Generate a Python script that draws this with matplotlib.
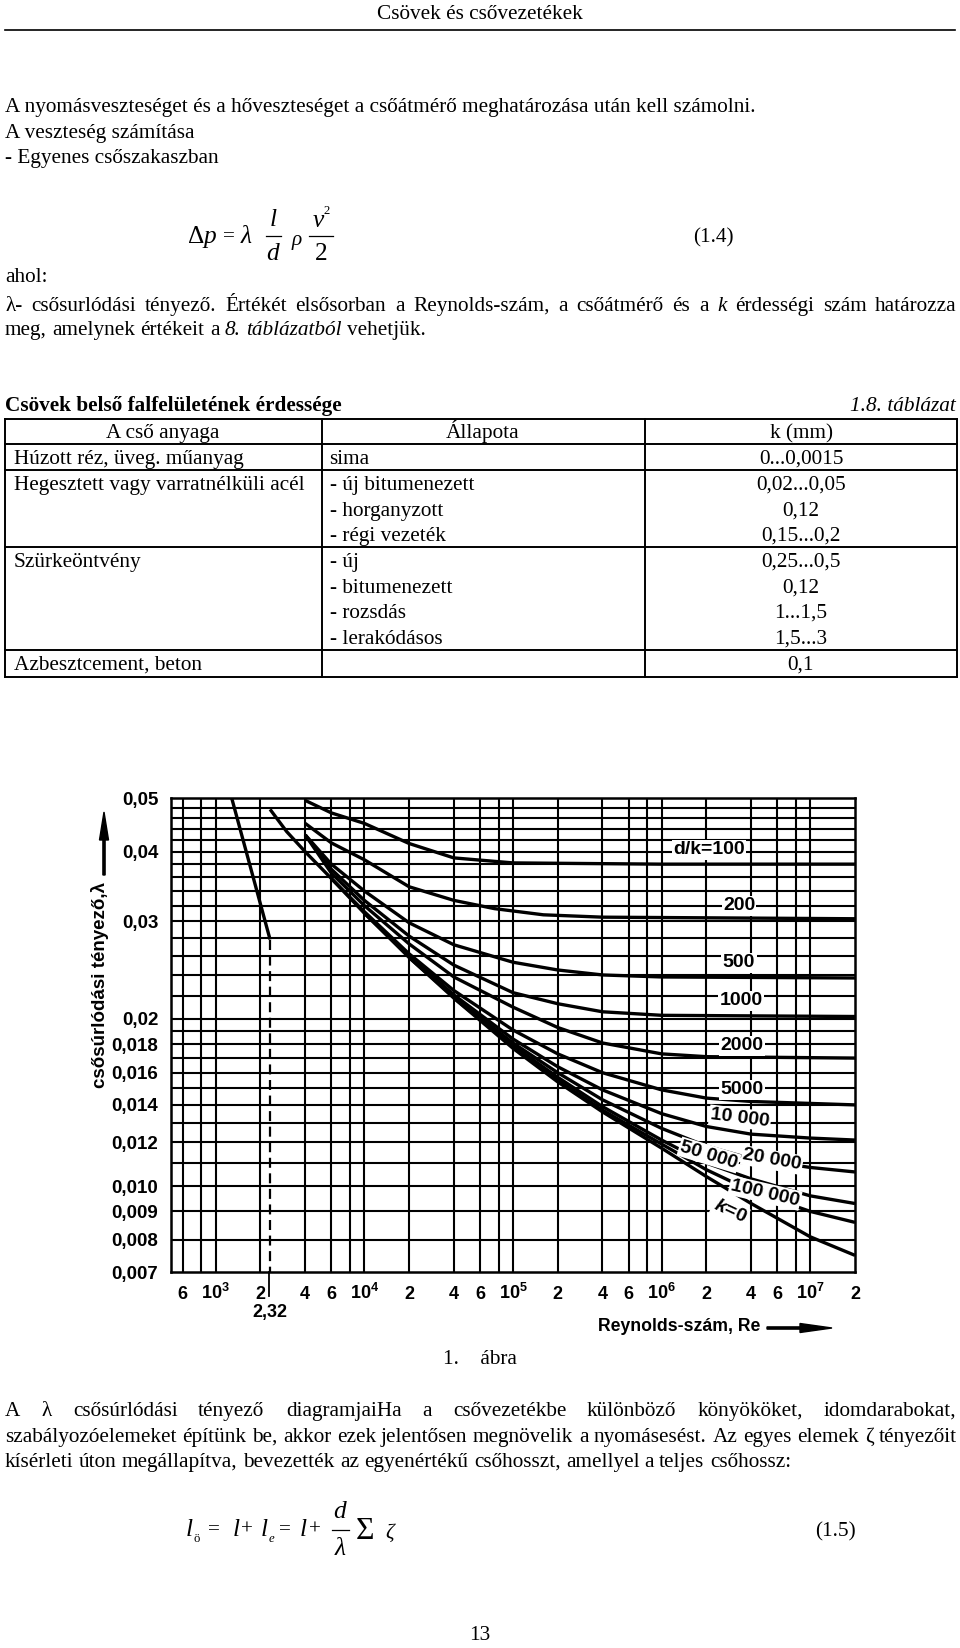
import matplotlib
matplotlib.use("Agg")
import matplotlib.pyplot as plt
import matplotlib.transforms as mtransforms
from matplotlib.patches import FancyArrow
from matplotlib.lines import Line2D

plt.rcParams["mathtext.fontset"] = "custom"
plt.rcParams["mathtext.it"] = "Liberation Sans:italic:bold"
plt.rcParams["mathtext.rm"] = "Liberation Sans:bold"
plt.rcParams["mathtext.bf"] = "Liberation Sans:bold"

# ---------------- data ----------------
# friction factor curves (Reynolds number, lambda)
re_lam = [1280, 2320]
lam_lam = [0.0500, 0.0278]

re_100 = [4000, 6000, 1e4, 2e4, 4e4, 1e5, 1e6, 2e7]
lam_100 = [0.0495, 0.0470, 0.0450, 0.0414, 0.0390, 0.0382, 0.0380, 0.0380]

re_200 = [4000, 6000, 1e4, 2e4, 4e4, 7.5e4, 1.6e5, 4e5, 2e7]
lam_200 = [0.0450, 0.0415, 0.0387, 0.0346, 0.0327, 0.0316, 0.0308, 0.0305, 0.0303]

re_500 = [4000, 6000, 1e4, 2e4, 4e4, 1e5, 2e5, 4e5, 1e6, 2e7]
lam_500 = [0.0429, 0.0380, 0.0340, 0.0298, 0.0272, 0.0253, 0.0245, 0.0240, 0.0238, 0.0237]

re_1000 = [4000, 6000, 1e4, 2e4, 4e4, 1e5, 2e5, 4e5, 1e6, 2e7]
lam_1000 = [0.0429, 0.0372, 0.0327, 0.0282, 0.0250, 0.0223, 0.0213, 0.0206, 0.0203, 0.0202]

re_2000 = [4000, 6000, 1e4, 2e4, 4e4, 1e5, 2e5, 4e5, 1e6, 2e6, 2e7]
lam_2000 = [0.0429, 0.0366, 0.0320, 0.0273, 0.0238, 0.0210, 0.0193, 0.0181, 0.0173, 0.0171, 0.0170]

re_5000 = [6000, 1e4, 2e4, 4e4, 1e5, 2e5, 4e5, 1e6, 2e6, 4e6, 2e7]
lam_5000 = [0.0358, 0.0312, 0.0262, 0.0225, 0.0191, 0.0173, 0.0160, 0.0149, 0.0144, 0.0142, 0.0140]

re_10000 = [1e4, 2e4, 4e4, 1e5, 2e5, 4e5, 1e6, 2e6, 4e6, 1e7, 2e7]
lam_10000 = [0.0310, 0.0260, 0.0221, 0.0184, 0.0164, 0.0149, 0.0135, 0.0128, 0.0124, 0.0122, 0.0121]

re_20000 = [2e4, 4e4, 1e5, 2e5, 4e5, 1e6, 2e6, 4e6, 1e7, 2e7]
lam_20000 = [0.0258, 0.0219, 0.0181, 0.0160, 0.0143, 0.0127, 0.0118, 0.0112, 0.0108, 0.0106]

re_50000 = [4e4, 1e5, 2e5, 4e5, 1e6, 2e6, 4e6, 1e7, 2e7]
lam_50000 = [0.0218, 0.0179, 0.0157, 0.0139, 0.0121, 0.0110, 0.0103, 0.0096, 0.0093]

re_100000 = [1e5, 2e5, 4e5, 1e6, 2e6, 4e6, 1e7, 2e7]
lam_100000 = [0.0178, 0.0155, 0.0137, 0.0119, 0.0107, 0.0098, 0.0090, 0.0086]

re_smooth = [2320, 3000, 4000, 6000, 1e4, 2e4, 4e4, 1e5, 2e5, 4e5, 1e6, 2e6, 4e6, 1e7, 2e7]
lam_smooth = [0.0477, 0.0435, 0.0400, 0.0358, 0.0310, 0.0258, 0.0218, 0.0177, 0.0154,
              0.0136, 0.0117, 0.0104, 0.0093, 0.0081, 0.0075]

re_critical = 2320

curve_labels = ["d/k=100", "200", "500", "1000", "2000", "5000", "10 000",
                "20 000", "50 000", "100 000", "$\\it{k}$=0"]

x_grid = [6e2, 8e2, 1e3, 2e3, 4e3, 6e3, 8e3, 1e4, 2e4, 4e4, 6e4, 8e4, 1e5, 2e5, 4e5,
          6e5, 8e5, 1e6, 2e6, 4e6, 6e6, 8e6, 1e7]
y_grid = [0.008, 0.009, 0.010, 0.011, 0.012, 0.013, 0.014, 0.015, 0.016, 0.017, 0.018,
          0.019, 0.020, 0.022, 0.024, 0.026, 0.028, 0.030, 0.032, 0.034, 0.036, 0.038,
          0.040, 0.042, 0.044, 0.046, 0.048]
x_tick_vals = [6e2, 1e3, 2e3, 4e3, 6e3, 1e4, 2e4, 4e4, 6e4, 1e5, 2e5, 4e5, 6e5, 1e6,
               2e6, 4e6, 6e6, 1e7, 2e7]
x_tick_labels = ["6", "$10^3$", "2", "4", "6", "$10^4$", "2", "4", "6", "$10^5$", "2",
                 "4", "6", "$10^6$", "2", "4", "6", "$10^7$", "2"]
y_tick_vals = [0.05, 0.04, 0.03, 0.02, 0.018, 0.016, 0.014, 0.012, 0.010, 0.009, 0.008, 0.007]
y_tick_labels = ["0,05", "0,04", "0,03", "0,02", "0,018", "0,016", "0,014", "0,012",
                 "0,010", "0,009", "0,008", "0,007"]

# table
tab_headers = ["A cső anyaga", "Állapota", "k (mm)"]
tab_material = ["Húzott réz, üveg. műanyag", "Hegesztett vagy varratnélküli acél",
                "Szürkeöntvény", "Azbesztcement, beton"]
tab_state = [["sima"], ["- új bitumenezett", "- horganyzott", "- régi vezeték"],
             ["- új", "- bitumenezett", "- rozsdás", "- lerakódásos"], [""]]
tab_k = [["0...0,0015"], ["0,02...0,05", "0,12", "0,15...0,2"],
         ["0,25...0,5", "0,12", "1...1,5", "1,5...3"], ["0,1"]]

# ---------------- figure ----------------
W, H = 960, 1648
fig = plt.figure(figsize=(W / 100, H / 100), dpi=100)
fig.patch.set_facecolor("white")
PX = mtransforms.Affine2D().scale(1 / W, -1 / H).translate(0, 1) + fig.transFigure
renderer = fig.canvas.get_renderer()
SERIF = "Liberation Serif"
SANS = "Liberation Sans"


def text_w(s, size, style="normal", weight="normal", family=SERIF):
    t = fig.text(0, 0, s, fontsize=size, family=family, style=style, weight=weight)
    w = t.get_window_extent(renderer).width
    t.remove()
    return w


def put(x, y, s, size, ha="left", style="normal", weight="normal", family=SERIF,
        va="baseline", **kw):
    if va == "baseline":
        y = round(y + 0.30 * size * 100 / 72)
    return fig.text(x, y, s, transform=PX, fontsize=size, ha=ha, va=va,
                    style=style, weight=weight, family=family, **kw)


line1 = "A nyomásveszteséget és a hőveszteséget a csőátmérő meghatározása után kell számolni."
FS = 10 * 748 / text_w(line1, 10)


def draw_runs(y, runs, x0, x1=None, justify=False, size=None):
    size = size or FS
    words = []
    for txt, st in runs:
        for w in txt.split(" "):
            if w:
                words.append((w, st))
    widths = [text_w(w, size, style=st) for w, st in words]
    if justify and len(words) > 1:
        gap = (x1 - x0 - sum(widths)) / (len(words) - 1)
    else:
        gap = text_w("a a", size) - text_w("aa", size)
    x = x0
    for (w, st), wd in zip(words, widths):
        put(round(x), y, w, size, style=st)
        x += wd + gap


def hline(x0, x1, y, lw=1.0):
    fig.add_artist(Line2D([x0, x1], [y, y], transform=PX, color="black", lw=lw))


def vline(x, y0, y1, lw=1.0):
    fig.add_artist(Line2D([x, x], [y0, y1], transform=PX, color="black", lw=lw))


# header
put(480, 13, "Csövek és csővezetékek", FS, ha="center")
hline(5, 955, 30, lw=1.2)

put(5, 106, line1, FS)
put(5, 132, "A veszteség számítása", FS)
put(5, 157, "- Egyenes csőszakaszban", FS)

# formula 1.4
FF = FS * 1.2
C = "center"
put(196, 237, "Δ", FF, ha=C, va=C)
put(210, 237, "p", FF, ha=C, va=C, style="italic")
put(229, 237, "=", FS, ha=C, va=C)
put(246, 237, "λ", FF, ha=C, va=C, style="italic")
put(273, 220, "l", FF, ha=C, va=C, style="italic")
hline(266, 281, 236, lw=0.9)
put(273, 254, "d", FF, ha=C, va=C, style="italic")
put(297, 240, "ρ", FS, ha=C, va=C, style="italic")
put(318, 221, "v", FF, ha=C, va=C, style="italic")
put(327, 211, "2", FS * 0.6, ha=C, va=C)
hline(309, 333, 236, lw=0.9)
put(321, 254, "2", FF, ha=C, va=C)
put(713, 236, "(1.4)", FS, ha=C)

put(5, 276, "ahol:", FS)
draw_runs(305, [("λ- csősurlódási tényező. Értékét elsősorban a Reynolds-szám, a csőátmérő és a",
                 "normal"), ("k", "italic"), ("érdességi szám határozza", "normal")],
          5, 957, justify=True)
draw_runs(329, [("meg, amelynek értékeit a", "normal"), ("8. táblázatból", "italic"),
                ("vehetjük.", "normal")], 5)

# table
put(5, 405, "Csövek belső falfelületének érdessége", FS, weight="bold")
put(956, 405, "1.8. táblázat", FS, ha="right", style="italic")
col_x = [5, 321.5, 645, 956.5]
row_y = [419, 444, 470.5, 547.5, 650, 677]
for yy in row_y:
    hline(col_x[0], col_x[-1], yy, lw=1.4)
for xx in col_x:
    vline(xx, row_y[0], row_y[-1], lw=1.4)
put(163, 432, tab_headers[0], FS, ha=C)
put(483, 432, tab_headers[1], FS, ha=C)
put(801, 432, tab_headers[2], FS, ha=C)
row_start = [458, 484, 561, 664]
for i in range(4):
    put(13.5, row_start[i], tab_material[i], FS)
    for j, s in enumerate(tab_state[i]):
        if s:
            put(329.5, row_start[i] + j * 25.5, s, FS)
    for j, s in enumerate(tab_k[i]):
        put(801, row_start[i] + j * 25.5, s, FS, ha=C)

# ---------------- chart ----------------
ax = fig.add_axes([171 / W, 1 - 1272 / H, (855 - 171) / W, (1272 - 798) / H])
ax.set_xscale("log")
ax.set_yscale("log")
ax.set_xlim(500, 2e7)
ax.set_ylim(0.007, 0.05)
for v in x_grid:
    ax.axvline(v, color="black", lw=1.5, zorder=1)
for v in y_grid:
    ax.axhline(v, color="black", lw=1.5, zorder=1)

curves = [(re_100, lam_100), (re_200, lam_200), (re_500, lam_500), (re_1000, lam_1000),
          (re_2000, lam_2000), (re_5000, lam_5000), (re_10000, lam_10000),
          (re_20000, lam_20000), (re_50000, lam_50000), (re_100000, lam_100000),
          (re_smooth, lam_smooth), (re_lam, lam_lam)]
for rx, ly in curves:
    ax.plot(rx, ly, color="black", lw=2.4, zorder=3, solid_joinstyle="round",
            solid_capstyle="butt")
ax.plot([re_critical, re_critical], [lam_lam[-1], 0.007], color="black", lw=1.6,
        linestyle=(0, (4.5, 2.5)), zorder=2)
tr = mtransforms.blended_transform_factory(ax.transData, ax.transAxes)
ax.plot([re_critical * 0.985, re_critical * 0.985], [0, -0.05], transform=tr, color="black",
        lw=1.3, clip_on=False)

ax.set_xticks(x_tick_vals)
ax.set_xticklabels([])
for xv, xl in zip(x_tick_vals, x_tick_labels):
    ax.text(xv, -0.058, xl, transform=tr, ha="center", va="baseline", fontsize=13,
            family=SANS, weight="bold")
ax.text(re_critical, -0.094, "2,32", transform=tr, ha="center", va="baseline",
        fontsize=13, family=SANS, weight="bold")
ax.set_yticks(y_tick_vals)
ax.set_yticklabels(y_tick_labels)
ax.minorticks_off()
ax.tick_params(axis="both", length=0, labelsize=13.5)
ax.tick_params(axis="y", pad=9)
for lbl in ax.get_yticklabels():
    lbl.set_family(SANS)
    lbl.set_weight("bold")
for sp in ax.spines.values():
    sp.set_linewidth(1.8)
    sp.set_zorder(4)

# curve labels (position px, rotation)
lab_pos = [(709, 850, 0), (739, 906, 0), (739, 963, 0), (741, 1001, 0), (742, 1046, 0),
           (742, 1090, 0), (740, 1118, -7), (772, 1160, -10), (709, 1155, -17),
           (765, 1193, -13), (730, 1211, -25)]
for s, (lx, lyy, rot) in zip(curve_labels, lab_pos):
    fig.text(lx, lyy, s, transform=PX, ha="center", va="center", rotation=rot,
             rotation_mode="anchor", fontsize=14, family=SANS, weight="bold", zorder=6,
             bbox=dict(facecolor="white", edgecolor="none", pad=1.0))

# axis titles and arrows
fig.text(100, 985, "csősúrlódási tényező,λ", transform=PX, rotation=90, ha="center",
         va="center", fontsize=13.5, family=SANS, weight="bold")
fig.add_artist(FancyArrow(104, 875, 0, -63, width=2.2, head_width=9, head_length=28,
                          length_includes_head=True, transform=PX, color="black"))
fig.text(598, 1327, "Reynolds-szám, Re", transform=PX, ha="left", va="center",
         fontsize=12.7, family=SANS, weight="bold")
fig.add_artist(FancyArrow(767, 1328, 65, 0, width=2.2, head_width=9, head_length=32,
                          length_includes_head=True, transform=PX, color="black"))

# ---------------- bottom text ----------------
put(480, 1358, "1.    ábra", FS, ha=C)
draw_runs(1410, [("A λ csősúrlódási tényező diagramjaiHa a csővezetékbe különböző könyököket, idomdarabokat,",
                  "normal")], 5, 957, justify=True)
draw_runs(1436, [("szabályozóelemeket építünk be, akkor ezek jelentősen megnövelik a nyomásesést. Az egyes elemek ζ tényezőit",
                  "normal")], 5, 957, justify=True)
draw_runs(1461, [("kísérleti úton megállapítva, bevezették az egyenértékű csőhosszt, amellyel a teljes csőhossz:",
                  "normal")], 5)

# formula 1.5
put(189, 1530, "l", FF, ha=C, va=C, style="italic")
put(197, 1539, "ö", FS * 0.6, ha=C, va=C)
put(214, 1530, "=", FS, ha=C, va=C)
put(236, 1530, "l", FF, ha=C, va=C, style="italic")
put(247, 1530, "+", FS, ha=C, va=C)
put(264, 1530, "l", FF, ha=C, va=C, style="italic")
put(271, 1539, "e", FS * 0.6, ha=C, va=C, style="italic")
put(285, 1530, "=", FS, ha=C, va=C)
put(303, 1530, "l", FF, ha=C, va=C, style="italic")
put(315, 1530, "+", FS, ha=C, va=C)
put(340, 1512, "d", FF, ha=C, va=C, style="italic")
hline(332, 349, 1530, lw=0.9)
put(340, 1549, "λ", FF, ha=C, va=C, style="italic")
put(365, 1532, "Σ", FS * 1.5, ha=C, va=C)
put(390, 1533, "ζ", FS, ha=C, va=C, style="italic")
put(835, 1530, "(1.5)", FS, ha=C)

put(480, 1636, "13", FS, ha=C, va=C)

fig.savefig("out.png", dpi=100, facecolor="white")
